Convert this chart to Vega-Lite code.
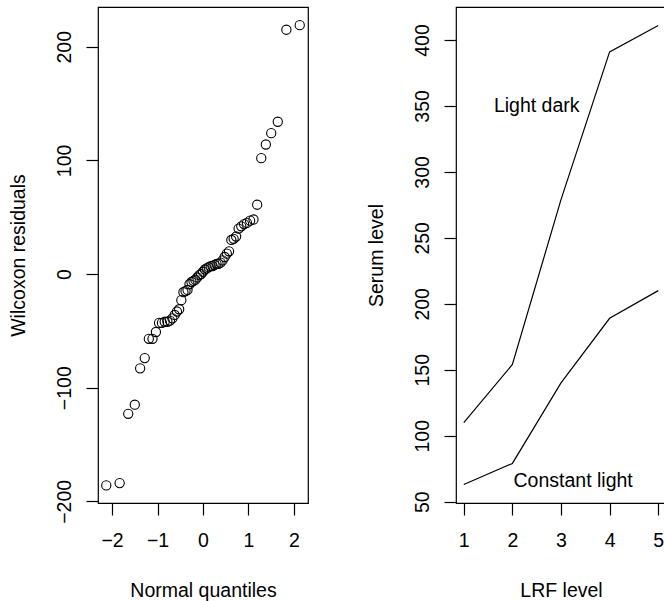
{
  "$schema": "https://vega.github.io/schema/vega-lite/v6.json",
  "background": "white",
  "padding": {"left": 7, "top": 6, "right": 0, "bottom": 0},
  "spacing": 56,
  "config": {
    "view": {"stroke": "black", "strokeWidth": 1.2},
    "font": "Liberation Sans",
    "axis": {
      "grid": false,
      "domain": false,
      "tickColor": "black",
      "tickSize": 12,
      "tickWidth": 1.2,
      "labelFont": "Liberation Sans",
      "labelFontSize": 19.5,
      "labelColor": "black",
      "titleFont": "Liberation Sans",
      "titleFontSize": 19.5,
      "titleFontWeight": "normal",
      "titleColor": "black"
    },
    "axisX": {"labelPadding": 16, "titlePadding": 32},
    "axisY": {"labelAngle": -90, "labelAlign": "center", "labelBaseline": "bottom", "labelPadding": 11.5, "titlePadding": 26}
  },
  "hconcat": [
    {
      "width": 210,
      "height": 496,
      "data": {"values": [
        {"q": -2.128, "r": -186}, {"q": -1.834, "r": -184}, {"q": -1.645, "r": -123}, {"q": -1.501, "r": -115},
        {"q": -1.383, "r": -83}, {"q": -1.282, "r": -74}, {"q": -1.192, "r": -57}, {"q": -1.111, "r": -57},
        {"q": -1.036, "r": -51}, {"q": -0.967, "r": -43}, {"q": -0.903, "r": -43}, {"q": -0.842, "r": -42},
        {"q": -0.783, "r": -42}, {"q": -0.728, "r": -41}, {"q": -0.674, "r": -39}, {"q": -0.623, "r": -36},
        {"q": -0.573, "r": -33}, {"q": -0.524, "r": -31}, {"q": -0.477, "r": -23}, {"q": -0.431, "r": -16},
        {"q": -0.385, "r": -15}, {"q": -0.341, "r": -14}, {"q": -0.297, "r": -9}, {"q": -0.253, "r": -7},
        {"q": -0.210, "r": -6}, {"q": -0.168, "r": -5}, {"q": -0.126, "r": -3}, {"q": -0.084, "r": -1},
        {"q": -0.042, "r": 0}, {"q": 0, "r": 2}, {"q": 0.042, "r": 4}, {"q": 0.084, "r": 5},
        {"q": 0.126, "r": 6}, {"q": 0.168, "r": 7}, {"q": 0.210, "r": 7}, {"q": 0.253, "r": 8},
        {"q": 0.297, "r": 9}, {"q": 0.341, "r": 9}, {"q": 0.385, "r": 10}, {"q": 0.431, "r": 12},
        {"q": 0.477, "r": 15}, {"q": 0.524, "r": 18}, {"q": 0.573, "r": 20}, {"q": 0.623, "r": 30},
        {"q": 0.674, "r": 31}, {"q": 0.728, "r": 33}, {"q": 0.783, "r": 40}, {"q": 0.842, "r": 42},
        {"q": 0.903, "r": 44}, {"q": 0.967, "r": 45}, {"q": 1.036, "r": 47}, {"q": 1.111, "r": 48},
        {"q": 1.192, "r": 61}, {"q": 1.282, "r": 102}, {"q": 1.383, "r": 114}, {"q": 1.501, "r": 124},
        {"q": 1.645, "r": 134}, {"q": 1.834, "r": 215}, {"q": 2.128, "r": 219}
      ]},
      "mark": {"type": "point", "shape": "circle", "filled": false, "color": "black", "opacity": 1, "size": 85, "strokeWidth": 1.1},
      "encoding": {
        "x": {"field": "q", "type": "quantitative", "scale": {"domain": [-2.31, 2.31], "nice": false, "zero": false},
              "axis": {"values": [-2, -1, 0, 1, 2], "title": "Normal quantiles"}},
        "y": {"field": "r", "type": "quantitative", "scale": {"domain": [-201.5, 235], "nice": false, "zero": false},
              "axis": {"values": [-200, -100, 0, 100, 200], "title": "Wilcoxon residuals"}}
      }
    },
    {
      "width": 210,
      "height": 496,
      "layer": [
        {
          "data": {"values": [
            {"lrf": 1, "serum": 110, "cond": "Light dark"}, {"lrf": 2, "serum": 154, "cond": "Light dark"},
            {"lrf": 3, "serum": 279, "cond": "Light dark"}, {"lrf": 4, "serum": 391, "cond": "Light dark"},
            {"lrf": 5, "serum": 411, "cond": "Light dark"},
            {"lrf": 1, "serum": 63, "cond": "Constant light"}, {"lrf": 2, "serum": 79, "cond": "Constant light"},
            {"lrf": 3, "serum": 140, "cond": "Constant light"}, {"lrf": 4, "serum": 189, "cond": "Constant light"},
            {"lrf": 5, "serum": 210, "cond": "Constant light"}
          ]},
          "mark": {"type": "line", "color": "black", "strokeWidth": 1.2},
          "encoding": {
            "x": {"field": "lrf", "type": "quantitative", "scale": {"domain": [0.84, 5.16], "nice": false, "zero": false},
                  "axis": {"values": [1, 2, 3, 4, 5], "title": "LRF level"}},
            "y": {"field": "serum", "type": "quantitative", "scale": {"domain": [49, 425], "nice": false, "zero": false},
                  "axis": {"values": [50, 100, 150, 200, 250, 300, 350, 400], "title": "Serum level"}},
            "detail": {"field": "cond", "type": "nominal"}
          }
        },
        {
          "data": {"values": [
            {"lrf": 2.5, "serum": 350, "label": "Light dark"},
            {"lrf": 3.25, "serum": 66, "label": "Constant light"}
          ]},
          "mark": {"type": "text", "font": "Liberation Sans", "fontSize": 19.5, "color": "black", "align": "center", "baseline": "middle"},
          "encoding": {
            "x": {"field": "lrf", "type": "quantitative"},
            "y": {"field": "serum", "type": "quantitative"},
            "text": {"field": "label"}
          }
        }
      ]
    }
  ]
}
